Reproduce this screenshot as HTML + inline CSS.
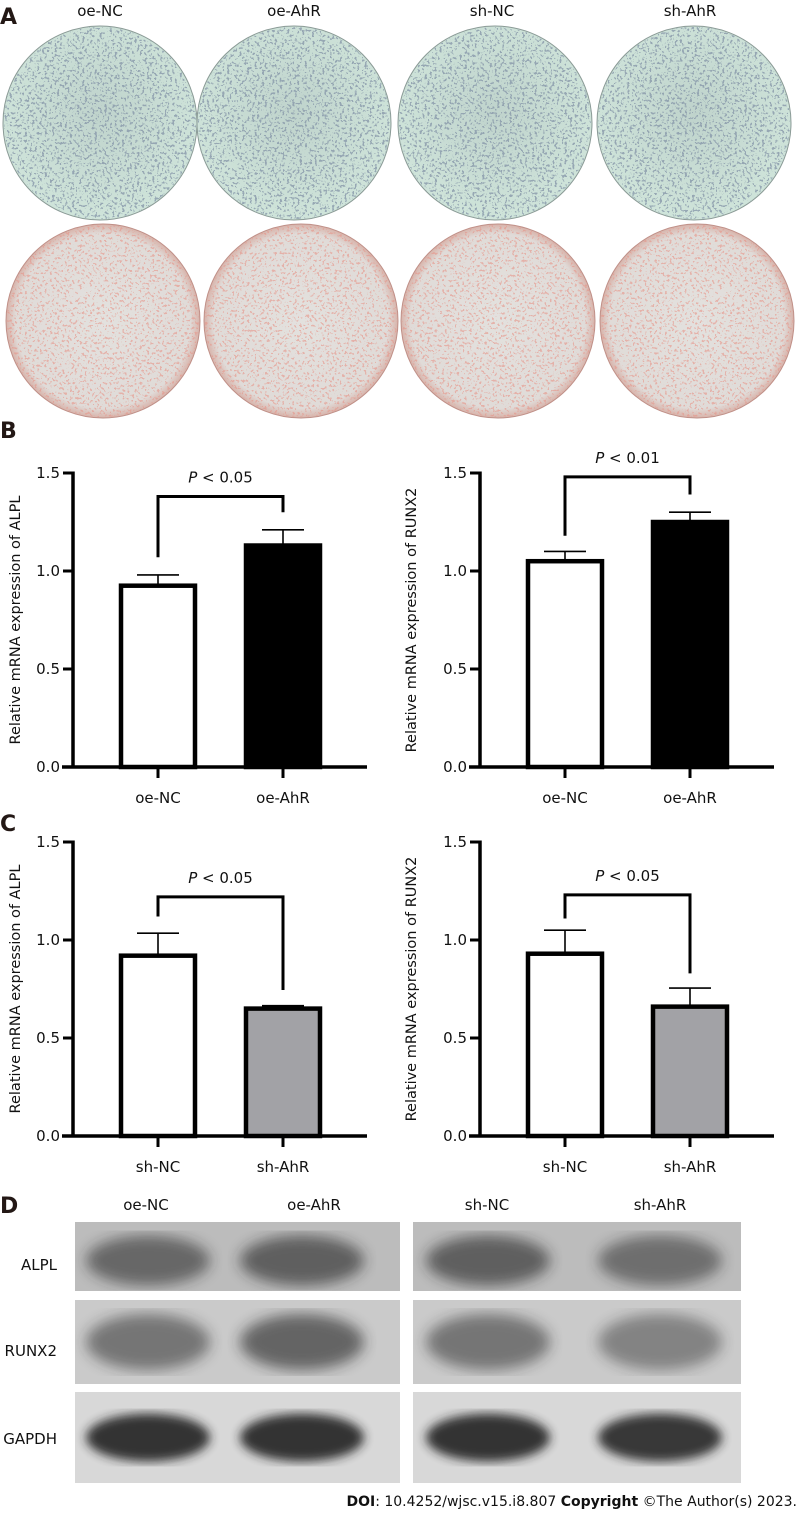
<!DOCTYPE html>
<html><head><meta charset="utf-8"><style>
html,body{margin:0;padding:0;background:#fff;}
svg{display:block;font-family:"DejaVu Sans","Liberation Sans",sans-serif;}
</style></head><body>
<svg id="fig" width="797" height="1513" viewBox="0 0 797 1513" xmlns="http://www.w3.org/2000/svg">
<defs>
<filter id="speck" x="0" y="0" width="100%" height="100%">
 <feTurbulence type="fractalNoise" baseFrequency="0.4" numOctaves="2" seed="3"/>
 <feColorMatrix type="matrix" values="0 0 0 0 0.25  0 0 0 0 0.32  0 0 0 0 0.4  -22 0 0 0 9.2"/>
</filter>
<filter id="speckR" x="0" y="0" width="100%" height="100%">
 <feTurbulence type="fractalNoise" baseFrequency="0.4" numOctaves="2" seed="7"/>
 <feColorMatrix type="matrix" values="0 0 0 0 0.8  0 0 0 0 0.3  0 0 0 0 0.25  -22 0 0 0 8.9"/>
</filter>
<filter id="blur6"><feGaussianBlur stdDeviation="7"/></filter>
<filter id="blur4"><feGaussianBlur stdDeviation="5"/></filter>
<radialGradient id="gTop" cx="50%" cy="45%" r="55%"><stop offset="0" stop-color="#bfd3cc"/><stop offset="1" stop-color="#cfe4da"/></radialGradient>
<radialGradient id="gBot" cx="50%" cy="50%" r="50%"><stop offset="0" stop-color="#e3e1de"/><stop offset="0.9" stop-color="#e0dbd8"/><stop offset="1" stop-color="#d8b3aa"/></radialGradient>
<clipPath id="cpl"><rect x="75" y="1222" width="325" height="261"/></clipPath>
<clipPath id="cpr"><rect x="413" y="1222" width="328" height="261"/></clipPath>
</defs>

<text x="0" y="24" font-size="22" font-weight="bold" fill="#231815">A</text>
<g font-size="15" fill="#111" text-anchor="middle">
 <text x="100" y="16">oe-NC</text>
 <text x="294" y="16">oe-AhR</text>
 <text x="492" y="16">sh-NC</text>
 <text x="690" y="16">sh-AhR</text>
</g>
<g id="plates"></g>

<text x="0" y="438" font-size="22" font-weight="bold" fill="#231815">B</text>
<text x="0" y="831" font-size="22" font-weight="bold" fill="#231815">C</text>
<text x="0" y="1213" font-size="22" font-weight="bold" fill="#231815">D</text>

<g id="charts"></g>

<g font-size="15" fill="#111" text-anchor="middle">
 <text x="146" y="1210">oe-NC</text>
 <text x="314" y="1210">oe-AhR</text>
 <text x="487" y="1210">sh-NC</text>
 <text x="660" y="1210">sh-AhR</text>
</g>
<g font-size="15" fill="#111" text-anchor="end">
 <text x="57" y="1270">ALPL</text>
 <text x="57" y="1356">RUNX2</text>
 <text x="57" y="1444">GAPDH</text>
</g>
<g id="blots"></g>

<text x="797" y="1506" font-size="14" fill="#111" text-anchor="end"><tspan font-weight="bold">DOI</tspan>: 10.4252/wjsc.v15.i8.807 <tspan font-weight="bold">Copyright</tspan> ©The Author(s) 2023.</text>
</svg>

<script>
const catsB = ["oe-NC", "oe-AhR"];
const catsC = ["sh-NC", "sh-AhR"];
const ticksY = [0.0, 0.5, 1.0, 1.5];
const tickLabels = ["0.0", "0.5", "1.0", "1.5"];
const alplB = [0.925, 1.13];
const alplBErr = [0.055, 0.08];
const runx2B = [1.05, 1.25];
const runx2BErr = [0.05, 0.05];
const alplC = [0.92, 0.65];
const alplCErr = [0.115, 0.015];
const runx2C = [0.93, 0.66];
const runx2CErr = [0.12, 0.095];
const pB1 = "0.05", pB2 = "0.01", pC1 = "0.05", pC2 = "0.05";

const NS = "http://www.w3.org/2000/svg";
function mk(tag, attrs, parent) {
  const e = document.createElementNS(NS, tag);
  for (const k in attrs) e.setAttribute(k, attrs[k]);
  parent.appendChild(e);
  return e;
}

const chartsG = document.getElementById('charts');

function drawChart(opt) {
  const g = mk('g', {}, chartsG);
  
  
  const ax = opt.axisX, base = opt.baseY, ppu = 196;
  const y = v => base - v * ppu;
  const cx = i => ax + 85 + i * 125;
  const yl = mk('line', {x1: ax, y1: y(1.5) - 1.5, x2: ax, y2: base, stroke: '#000', 'stroke-width': 3.5}, g);
  
  
  ticksY.forEach((t, i) => {
    const tk = mk('line', {x1: ax - 10, y1: y(t), x2: ax, y2: y(t), stroke: '#000', 'stroke-width': 3}, g);
    
    
    const tl = mk('text', {x: ax - 13, y: y(t) + 5, 'font-size': 15, 'text-anchor': 'end', fill: '#111'}, g);
    tl.textContent = tickLabels[i];
    
    
  });
  const midY = y(0.75);
  const at = mk('text', {x: 0, y: 0, 'font-size': 14.5, 'text-anchor': 'middle', fill: '#111',
    transform: `translate(${opt.titleX},${midY}) rotate(-90)`}, g);
  at.textContent = opt.title;
  
  
  opt.vals.forEach((v, i) => {
    const x0 = cx(i) - 37;
    const e = mk('line', {x1: cx(i), y1: y(v), x2: cx(i), y2: y(v + opt.err[i]), stroke: '#000', 'stroke-width': 1.6}, g);
    
    
    const c = mk('line', {x1: cx(i) - 21, y1: y(v + opt.err[i]), x2: cx(i) + 21, y2: y(v + opt.err[i]), stroke: '#000', 'stroke-width': 1.6}, g);
    
    
    const r = mk('rect', {x: x0, y: y(v), width: 74, height: base - y(v), fill: opt.fills[i], stroke: '#000', 'stroke-width': 4.5}, g);
    
    
  });
  const xl = mk('line', {x1: ax - 11, y1: base, x2: ax + 294, y2: base, stroke: '#000', 'stroke-width': 3.5}, g);
  
  
  opt.cats.forEach((c, i) => {
    const tk = mk('line', {x1: cx(i), y1: base, x2: cx(i), y2: base + 11, stroke: '#000', 'stroke-width': 3}, g);
    
    
    const tl = mk('text', {x: cx(i), y: base + 36, 'font-size': 15, 'text-anchor': 'middle', fill: '#111'}, g);
    tl.textContent = c;
    
    
  });
  const bY = y(opt.br[0]);
  const br = mk('path', {d: `M${cx(0)},${y(opt.br[1])} V${bY} H${cx(1)} V${y(opt.br[2])}`, fill: 'none', stroke: '#000', 'stroke-width': 3}, g);
  
  
  const pt = mk('text', {x: (cx(0) + cx(1)) / 2, y: bY - 14, 'font-size': 15, 'text-anchor': 'middle', fill: '#111'}, g);
  pt.innerHTML = '<tspan font-style="italic">P</tspan> &lt; ' + opt.p;
  
  
}

drawChart({name: 'chart-b-alpl', axisX: 73, baseY: 767, titleX: 20, title: 'Relative mRNA expression of ALPL',
  cats: catsB, vals: alplB, err: alplBErr, fills: ['#fff', '#000'], br: [1.38, 1.07, 1.30], p: pB1});
drawChart({name: 'chart-b-runx2', axisX: 480, baseY: 767, titleX: 416, title: 'Relative mRNA expression of RUNX2',
  cats: catsB, vals: runx2B, err: runx2BErr, fills: ['#fff', '#000'], br: [1.48, 1.18, 1.39], p: pB2});
drawChart({name: 'chart-c-alpl', axisX: 73, baseY: 1136, titleX: 20, title: 'Relative mRNA expression of ALPL',
  cats: catsC, vals: alplC, err: alplCErr, fills: ['#fff', '#a2a2a6'], br: [1.22, 1.12, 0.745], p: pC1});
drawChart({name: 'chart-c-runx2', axisX: 480, baseY: 1136, titleX: 416, title: 'Relative mRNA expression of RUNX2',
  cats: catsC, vals: runx2C, err: runx2CErr, fills: ['#fff', '#a2a2a6'], br: [1.23, 1.11, 0.83], p: pC2});

const platesG = document.getElementById('plates');
const plateNames = ["oe-nc", "oe-ahr", "sh-nc", "sh-ahr"];
const topCx = [100, 294, 495, 694];
const botCx = [103, 301, 498, 697];
plateNames.forEach((n, i) => {
  const t = mk('g', {}, platesG);
  
  
  mk('circle', {cx: topCx[i], cy: 123, r: 97, fill: 'url(#gTop)'}, t);
  const cp = mk('clipPath', {id: 'ct' + i}, t);
  mk('circle', {cx: topCx[i], cy: 123, r: 96}, cp);
  mk('rect', {x: topCx[i] - 97, y: 26, width: 194, height: 194, filter: 'url(#speck)', 'clip-path': 'url(#ct' + i + ')', opacity: 0.8}, t);
  mk('circle', {cx: topCx[i], cy: 123, r: 97, fill: 'none', stroke: '#8a9a96', 'stroke-width': 1}, t);

  const b = mk('g', {}, platesG);
  
  
  mk('circle', {cx: botCx[i], cy: 321, r: 97, fill: 'url(#gBot)'}, b);
  const cp2 = mk('clipPath', {id: 'cb' + i}, b);
  mk('circle', {cx: botCx[i], cy: 321, r: 96}, cp2);
  mk('rect', {x: botCx[i] - 97, y: 224, width: 194, height: 194, filter: 'url(#speckR)', 'clip-path': 'url(#cb' + i + ')', opacity: 0.6}, b);
  mk('circle', {cx: botCx[i], cy: 321, r: 97, fill: 'none', stroke: '#c09088', 'stroke-width': 1}, b);
});

const blotsG = document.getElementById('blots');
const rows = [{n: 'alpl', y: 1222, h: 69, bg: '#bcbcbc'}, {n: 'runx2', y: 1300, h: 84, bg: '#cacaca'}, {n: 'gapdh', y: 1392, h: 91, bg: '#d8d8d8'}];
const laneX = [148, 302, 488, 660];
const bandDark = [[0.55, 0.6, 0.6, 0.5], [0.5, 0.6, 0.5, 0.42], [0.9, 0.9, 0.9, 0.88]];
rows.forEach((r, ri) => {
  [[75, 325, 'cpl'], [413, 328, 'cpr']].forEach(([x, w, cp], side) => {
    const g = mk('g', {'clip-path': 'url(#' + cp + ')'}, blotsG);
    
    
    mk('rect', {x: x, y: r.y, width: w, height: r.h, fill: r.bg}, g);
    [0, 1].forEach(k => {
      const li = side * 2 + k;
      const hh = ri === 2 ? 24 : (ri === 1 ? 28 : 25);
      mk('ellipse', {cx: laneX[li], cy: r.y + r.h / 2 + (ri === 0 ? 4 : 0), rx: 62, ry: hh, fill: '#222', opacity: bandDark[ri][li], filter: ri === 2 ? 'url(#blur4)' : 'url(#blur6)'}, g);
    });
  });
});
</script>
</body></html>
